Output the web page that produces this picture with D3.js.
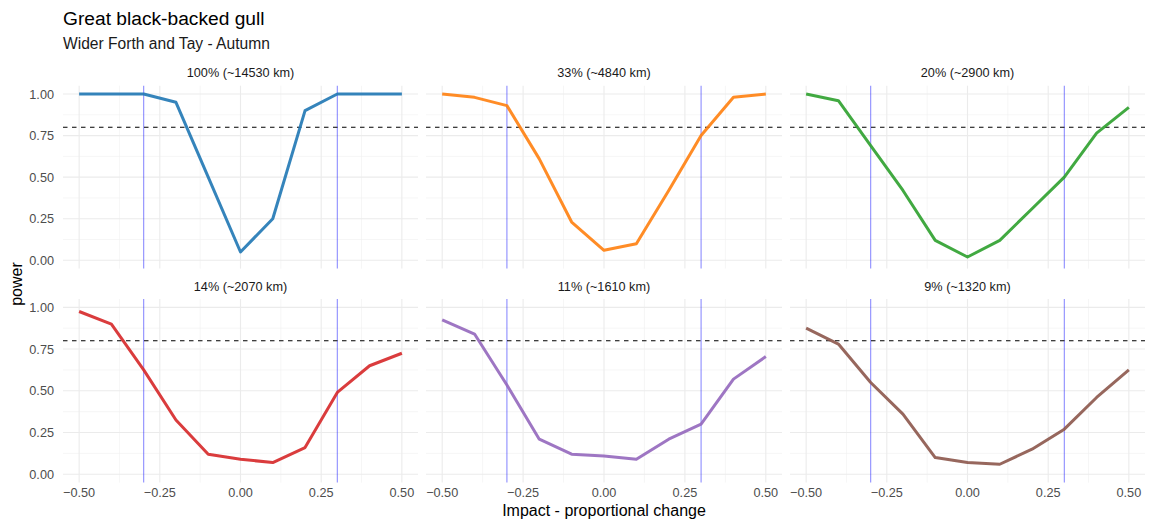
<!DOCTYPE html>
<html><head><meta charset="utf-8">
<script src="https://cdn.jsdelivr.net/npm/d3@7"></script>
<style>body{margin:0;background:#fff;} text{font-family:"Liberation Sans",Arial,sans-serif;}</style>
</head><body><svg id="c" width="1156" height="521"></svg>
<script>
const impacts = [-0.5,-0.4,-0.3,-0.2,-0.1,0,0.1,0.2,0.3,0.4,0.5];
const panelLabels = ["100% (~14530 km)","33% (~4840 km)","20% (~2900 km)","14% (~2070 km)","11% (~1610 km)","9% (~1320 km)"];
const power100 = [1,1,1,0.95,0.5,0.05,0.25,0.9,1,1,1];
const power33  = [1,0.98,0.93,0.61,0.23,0.06,0.10,0.42,0.75,0.98,1];
const power20  = [1,0.96,0.69,0.42,0.12,0.02,0.12,0.31,0.50,0.765,0.92];
const power14  = [0.975,0.90,0.625,0.325,0.12,0.09,0.07,0.16,0.49,0.65,0.725];
const power11  = [0.925,0.84,0.535,0.21,0.12,0.11,0.09,0.21,0.30,0.57,0.705];
const power9   = [0.875,0.78,0.55,0.36,0.10,0.07,0.06,0.15,0.27,0.46,0.625];
const seriesValues = [power100,power33,power20,power14,power11,power9];
const colors = ["#1f77b4","#ff7f0e","#2ca02c","#d62728","#9467bd","#8c564b"];
const xTicks = [-0.5,-0.25,0,0.25,0.5];
const yTicks = [0,0.25,0.5,0.75,1];
const xMinor = [-0.375,-0.125,0.125,0.375];
const yMinor = [0.125,0.375,0.625,0.875];
const threshold = 0.8;
const impactLines = [-0.3,0.3];

const svg = d3.select("#c");
svg.append("text").attr("x",63).attr("y",25).attr("font-size",19.2).attr("fill","#000").text("Great black-backed gull");
svg.append("text").attr("x",63).attr("y",49).attr("font-size",15.6).attr("fill","#1a1a1a").text("Wider Forth and Tay - Autumn");

const cols = [[63,418],[426,782],[790,1145]];
const rows = [[85.7,268.6],[299,482.6]];

seriesValues.forEach((vals,i)=>{
  const r = Math.floor(i/3), c = i%3;
  const x = d3.scaleLinear().domain([-0.55,0.55]).range(cols[c]);
  const y = d3.scaleLinear().domain([-0.05,1.05]).range([rows[r][1],rows[r][0]]);
  const g = svg.append("g");
  g.append("text").attr("x",(cols[c][0]+cols[c][1])/2).attr("y",rows[r][0]-8.5)
    .attr("text-anchor","middle").attr("font-size",12.7).attr("fill","#1a1a1a").text(panelLabels[i]);
  g.selectAll(".xm").data(xMinor).join("line").attr("x1",d=>x(d)).attr("x2",d=>x(d))
    .attr("y1",rows[r][0]).attr("y2",rows[r][1]).attr("stroke","#f0f0f0").attr("stroke-width",0.6);
  g.selectAll(".ym").data(yMinor).join("line").attr("y1",d=>y(d)).attr("y2",d=>y(d))
    .attr("x1",cols[c][0]).attr("x2",cols[c][1]).attr("stroke","#f0f0f0").attr("stroke-width",0.6);
  g.selectAll(".xg").data(xTicks).join("line").attr("x1",d=>x(d)).attr("x2",d=>x(d))
    .attr("y1",rows[r][0]).attr("y2",rows[r][1]).attr("stroke","#ebebeb").attr("stroke-width",1.1);
  g.selectAll(".yg").data(yTicks).join("line").attr("y1",d=>y(d)).attr("y2",d=>y(d))
    .attr("x1",cols[c][0]).attr("x2",cols[c][1]).attr("stroke","#ebebeb").attr("stroke-width",1.1);
  g.selectAll(".il").data(impactLines).join("line").attr("x1",d=>x(d)).attr("x2",d=>x(d))
    .attr("y1",rows[r][0]).attr("y2",rows[r][1]).attr("stroke","#0000ff").attr("stroke-opacity",0.45).attr("stroke-width",1.1);
  g.append("line").attr("x1",cols[c][0]).attr("x2",cols[c][1]).attr("y1",y(threshold)).attr("y2",y(threshold))
    .attr("stroke","#000").attr("stroke-width",1.1).attr("stroke-dasharray","4.5,4.5");
  const line = d3.line().x((d,j)=>x(impacts[j])).y(d=>y(d));
  g.append("path").datum(vals).attr("d",line).attr("fill","none").attr("stroke",colors[i])
    .attr("stroke-opacity",0.9).attr("stroke-width",3).attr("stroke-linejoin","round");
  if(c===0){
    g.selectAll(".yl").data(yTicks).join("text").attr("x",cols[0][0]-9).attr("y",d=>y(d)+4.5)
      .attr("text-anchor","end").attr("font-size",12.7).attr("fill","#4d4d4d").text(d=>d3.format(".2f")(d));
  }
  if(r===1){
    g.selectAll(".xl").data(xTicks).join("text").attr("x",d=>x(d)).attr("y",rows[1][1]+14)
      .attr("text-anchor","middle").attr("font-size",12.7).attr("fill","#4d4d4d").text(d=>d3.format(".2f")(d));
  }
});
svg.append("text").attr("x",(63+1145)/2).attr("y",516).attr("text-anchor","middle").attr("font-size",16).attr("fill","#000").text("Impact - proportional change");
svg.append("text").attr("transform","translate(22,284) rotate(-90)").attr("text-anchor","middle").attr("font-size",16).attr("fill","#000").text("power");
</script></body></html>
